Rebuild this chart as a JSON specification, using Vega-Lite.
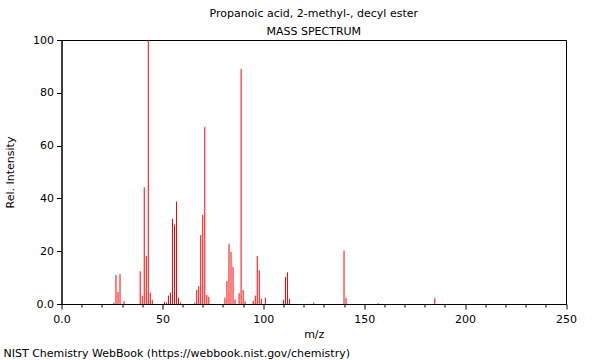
{
  "$schema": "https://vega.github.io/schema/vega-lite/v6.json",
  "width": 504.5,
  "height": 264,
  "autosize": {"type": "none"},
  "padding": {"left": 61.5, "top": 40, "right": 34, "bottom": 56},
  "background": "white",
  "title": {
    "text": "Propanoic acid, 2-methyl-, decyl ester",
    "subtitle": "MASS SPECTRUM",
    "anchor": "middle",
    "frame": "group",
    "font": "DejaVu Sans",
    "fontSize": 11,
    "fontWeight": "normal",
    "color": "black",
    "subtitleFont": "DejaVu Sans",
    "subtitleFontSize": 11,
    "subtitleColor": "black",
    "subtitlePadding": 7,
    "offset": -3
  },
  "config": {
    "view": {"stroke": "black", "strokeWidth": 1},
    "axis": {
      "grid": false,
      "domainColor": "black",
      "tickColor": "black",
      "labelColor": "black",
      "titleColor": "black",
      "labelFont": "DejaVu Sans",
      "labelFontSize": 11,
      "titleFont": "DejaVu Sans",
      "titleFontSize": 11,
      "titleFontWeight": "normal"
    }
  },
  "data": {
    "values": [
      {"mz": 26, "intensity": 0.5},
      {"mz": 27, "intensity": 11.0},
      {"mz": 28, "intensity": 4.6},
      {"mz": 29, "intensity": 11.4},
      {"mz": 31, "intensity": 1.1},
      {"mz": 39, "intensity": 12.4},
      {"mz": 40, "intensity": 3.1},
      {"mz": 41, "intensity": 44.2},
      {"mz": 42, "intensity": 18.2},
      {"mz": 43, "intensity": 100},
      {"mz": 44, "intensity": 4.3},
      {"mz": 45, "intensity": 1.5},
      {"mz": 51, "intensity": 0.9},
      {"mz": 52, "intensity": 0.5},
      {"mz": 53, "intensity": 3.2},
      {"mz": 54, "intensity": 4.3},
      {"mz": 55, "intensity": 32.2},
      {"mz": 56, "intensity": 30.1},
      {"mz": 57, "intensity": 38.8},
      {"mz": 58, "intensity": 2.4},
      {"mz": 59, "intensity": 0.5},
      {"mz": 66, "intensity": 0.5},
      {"mz": 67, "intensity": 5.3},
      {"mz": 68, "intensity": 6.8},
      {"mz": 69, "intensity": 26.1},
      {"mz": 70, "intensity": 33.8},
      {"mz": 71, "intensity": 67.0},
      {"mz": 72, "intensity": 3.4},
      {"mz": 73, "intensity": 2.7},
      {"mz": 81, "intensity": 2.4},
      {"mz": 82, "intensity": 8.7},
      {"mz": 83, "intensity": 22.7},
      {"mz": 84, "intensity": 19.7},
      {"mz": 85, "intensity": 14.0},
      {"mz": 86, "intensity": 1.8},
      {"mz": 88, "intensity": 4.1},
      {"mz": 89, "intensity": 89.0},
      {"mz": 90, "intensity": 5.3},
      {"mz": 91, "intensity": 1.0},
      {"mz": 95, "intensity": 1.2},
      {"mz": 96, "intensity": 3.2},
      {"mz": 97, "intensity": 18.2},
      {"mz": 98, "intensity": 12.8},
      {"mz": 99, "intensity": 2.0},
      {"mz": 101, "intensity": 2.4},
      {"mz": 110, "intensity": 1.5},
      {"mz": 111, "intensity": 10.3},
      {"mz": 112, "intensity": 12.0},
      {"mz": 113, "intensity": 1.9},
      {"mz": 125, "intensity": 0.5},
      {"mz": 140, "intensity": 20.2},
      {"mz": 141, "intensity": 2.3},
      {"mz": 157, "intensity": 0.3},
      {"mz": 185, "intensity": 2.2}
    ]
  },
  "layer": [
    {
      "mark": {"type": "rule", "color": "#ff0000", "strokeWidth": 1},
      "encoding": {
        "x": {
          "field": "mz",
          "type": "quantitative",
          "scale": {"domain": [0, 250], "nice": false, "zero": false},
          "axis": {
            "title": "m/z",
            "values": [0, 10, 20, 30, 40, 50, 60, 70, 80, 90, 100, 110, 120, 130, 140, 150, 160, 170, 180, 190, 200, 210, 220, 230, 240, 250],
            "labelExpr": "datum.value % 50 == 0 ? (datum.value == 0 ? '0.0' : datum.label) : ''",
            "tickSize": {"condition": {"test": "datum.value % 50 == 0", "value": 5}, "value": 3},
            "labelPadding": 4,
            "titlePadding": 4,
            "labelFlush": false,
            "labelOverlap": false
          }
        },
        "y": {
          "field": "intensity",
          "type": "quantitative",
          "scale": {"domain": [0, 100], "nice": false},
          "axis": {
            "title": "Rel. Intensity",
            "values": [0, 5, 10, 15, 20, 25, 30, 35, 40, 45, 50, 55, 60, 65, 70, 75, 80, 85, 90, 95, 100],
            "labelExpr": "datum.value % 20 == 0 ? (datum.value == 0 ? '0.0' : datum.label) : ''",
            "tickSize": {"condition": {"test": "datum.value % 20 == 0", "value": 5}, "value": 3},
            "labelPadding": 3,
            "titlePadding": 17,
            "labelFlush": false,
            "labelOverlap": false
          }
        },
        "y2": {"datum": 0}
      }
    },
    {
      "mark": {"type": "rule", "opacity": 0},
      "encoding": {
        "x": {
          "field": "mz",
          "type": "quantitative",
          "axis": {
            "orient": "top",
            "domain": false,
            "ticks": false,
            "labels": false,
            "title": "NIST Chemistry WebBook (https://webbook.nist.gov/chemistry)",
            "titleX": -58.5,
            "titleY": 316,
            "titleAlign": "left",
            "titleAnchor": "start",
            "titleBaseline": "alphabetic",
            "titleAngle": 0
          }
        },
        "y": {"field": "intensity", "type": "quantitative"},
        "y2": {"datum": 0}
      }
    }
  ],
  "resolve": {"axis": {"x": "independent"}}
}
